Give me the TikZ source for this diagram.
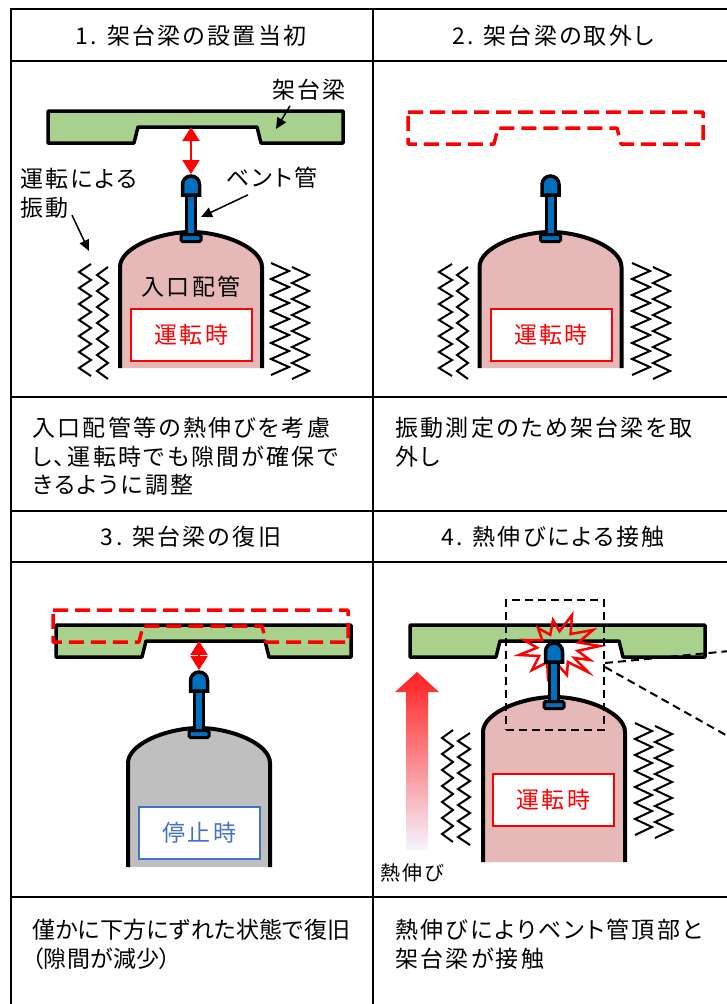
\documentclass[tikz,border=0pt]{standalone}
\usepackage{fontspec}
\setmainfont{Noto Sans CJK JP}[LetterSpace=10,RawFeature=+palt]
\usepackage{tikz}
\usetikzlibrary{arrows.meta,positioning,calc}
\definecolor{beamgreen}{RGB}{169,209,142}
\definecolor{pipepink}{RGB}{230,185,184}
\definecolor{stopgray}{RGB}{191,191,191}
\definecolor{ventblue}{RGB}{0,112,192}
\definecolor{stopblue}{RGB}{68,114,196}
\definecolor{hotred}{RGB}{255,0,0}
\newcommand{\jtext}{\fontsize{23}{28.5}\selectfont}

\begin{document}
\begin{tikzpicture}[x=1pt, y=-1pt,
  grid/.style={line width=2pt},
  head/.style={font=\jtext, inner sep=0pt},
  body/.style={font=\jtext, inner sep=0pt, anchor=north west, align=left},
  lbl/.style={font=\jtext, inner sep=0pt},
  statebox/.style={draw=#1, line width=2pt, fill=white, text=#1, font=\jtext, minimum width=121pt, minimum height=52pt, inner sep=0pt},
  beamfill/.style={draw=black, line width=3.5pt, fill=beamgreen, line join=round},
  beamghost/.style={draw=hotred, line width=3.5pt, dash pattern=on 15pt off 7pt, line join=round},
  zz/.style={line width=2pt},
  lead/.style={-{Triangle[length=11pt, width=10pt]}, line width=1.5pt},
  gap/.style={{Triangle[length=14pt, width=17pt]}-{Triangle[length=14pt, width=17pt]}, line width=2pt, hotred},
  burst/.style={draw=hotred, line width=2.5pt, line join=miter},
  focus/.style={line width=2pt, dash pattern=on 8pt off 5pt},
  pics/beam/.style={code={
    \path[pic actions] (0,0) -- (295,0) -- (295,32) -- (213,32) -- (209,16) -- (90,16) -- (86,32) -- (0,32) -- cycle;
  }},
  pics/vessel/.style 2 args={code={
    \fill[#1] (-71,#2) -- (-71,35) .. controls (-71,15.7) and (-31.8,0) .. (0,0) .. controls (31.8,0) and (71,15.7) .. (71,35) -- (71,#2) -- cycle;
    \draw[line width=4pt] (-71,#2) -- (-71,35) .. controls (-71,15.7) and (-31.8,0) .. (0,0) .. controls (31.8,0) and (71,15.7) .. (71,35) -- (71,#2);
  }},
  pics/vent/.style={code={
    \draw[line width=3pt, fill=ventblue] (-4.5,20) rectangle (4.5,61);
    \draw[line width=3pt, fill=ventblue, rounded corners=1.5pt] (-10,60.5) rectangle (10,67.5);
    \draw[line width=3.5pt, fill=ventblue] (-8.5,21) -- (-8.5,10.5) arc[start angle=180, end angle=360, radius=8.5] -- (8.5,21) -- cycle;
  }},
  pics/zigzag/.style={code={
    \draw[zz] (0,0) \foreach \k in {1,...,7} { -- ++(-#1,8) -- ++(#1,8) };
  }},
]
\clip (0,0) rectangle (727,1004);

% table frame
\draw[grid] (11,9) rectangle (734,1011);
\draw[grid] (372.5,9) -- (372.5,1011);
\foreach \y in {61,396.5,510.5,562,897} \draw[grid] (11,\y) -- (734,\y);

% headers
\node[head] (h1) at (191,36) {1. 架台梁の設置当初};
\node[head] (h2) at (553,36) {2. 架台梁の取外し};
\node[head] (h3) at (191,537) {3. 架台梁の復旧};
\node[head] (h4) at (553,537) {4. 熱伸びによる接触};

% 1: initial setting
\pic[beamfill] at (48,111) {beam};
\pic at (191,232) {vessel={pipepink}{136}};
\pic at (191,174) {vent};
\node[lbl] at (191,287) (pipe1) {入口配管};
\node[statebox=hotred] (run1) at (191.5,335) {運転時};
\pic at (91,264) {zigzag=12};
\pic at (108,267) {zigzag=11};
\pic at (271,263) {zigzag=-18};
\pic at (292,267) {zigzag=-17};
\coordinate (gap1a) at (191,127);
\coordinate (gap1b) at (191,174);
\draw[gap] (gap1a) -- (gap1b);
\node[lbl] (lblbeam) at (309,90) {架台梁};
\node[lbl] (lblvent) at (272,178) {ベント管};
\node[lbl, anchor=north west, align=left] (lblvib) at (20,168) {運転による\\振動};
\coordinate (beamtip) at (276,129);
\coordinate (venttip) at (201,217);
\coordinate (vibtip) at (89,251);
\draw[lead] ([xshift=-19pt, yshift=-5pt]lblbeam.south) -- (beamtip);
\draw[lead] ([xshift=-24pt, yshift=-6pt]lblvent.south) -- (venttip);
\draw[lead] ([xshift=52pt, yshift=3pt]lblvib.south west) -- (vibtip);

% 2: beam removed
\pic[beamghost] at (408,112) {beam};
\pic at (550.5,232) {vessel={pipepink}{136}};
\pic at (550.5,174) {vent};
\node[statebox=hotred] (run2) at (551,335) {運転時};
\pic at (452,264) {zigzag=13};
\pic at (468,267) {zigzag=11};
\pic at (632,263) {zigzag=-18};
\pic at (653,267) {zigzag=-17};

% 3: beam put back slightly lower
\pic[beamfill] at (56,625) {beam};
\pic[beamghost] at (53,610) {beam};
\pic at (199,728) {vessel={stopgray}{139}};
\pic at (199,670) {vent};
\node[statebox=stopblue] (stop3) at (199.5,833) {停止時};
\coordinate (gap3a) at (199,641);
\coordinate (gap3b) at (199,670);
\draw[gap] (gap3a) -- (gap3b);

% 4: contact by thermal growth
\pic[beamfill] at (410,625) {beam};
\pic at (554,697) {vessel={pipepink}{165}};
\draw[burst] (572,615) -- (570.6,634) -- (593,630) -- (578.3,642.5) -- (600,646) -- (577.5,650.8)
  -- (590,660) -- (574.2,657.9) -- (588,672) -- (567.8,662) -- (567,675) -- (556.8,663.7)
  -- (548,678) -- (547.2,662.3) -- (532,670) -- (539.2,656) -- (519,655) -- (537,647.7)
  -- (524,640) -- (542.3,640.3) -- (538,628) -- (550.2,634.8) -- (553,620) -- (559.6,631.2) -- cycle;
\pic at (554,641) {vent};
\node[statebox=hotred] (run4) at (553.5,800) {運転時};
\pic at (453,730) {zigzag=11};
\pic at (470,733) {zigzag=12};
\pic at (635,723) {zigzag=-17};
\pic at (655,726) {zigzag=-17};
\shade[top color=hotred!88, bottom color=blue!4] (406,850) -- (406,692) -- (395,692) -- (417,672) -- (439,692) -- (428,692) -- (428,850) -- cycle;
\node[font=\fontsize{20}{24}\selectfont, inner sep=0pt, anchor=west] (grow) at (380,873) {熱伸び};
\node[focus, draw, minimum width=98pt, minimum height=130pt, inner sep=0pt] (zoombox) at (555,665) {};
\coordinate (zoomup) at (740,650);
\coordinate (zoomdn) at (740,743);
\draw[focus] ([yshift=2pt]zoombox.east) -- (zoomup);
\draw[focus] ([yshift=-2pt]zoombox.east) -- (zoomdn);

% texts below
\node[body] (t1) at (32,417) {入口配管等の熱伸びを考慮\\し、運転時でも隙間が確保で\\きるように調整};
\node[body] (t2) at (395,417) {振動測定のため架台梁を取\\外し};
\node[body, font=\jtext\addfontfeatures{LetterSpace=1}] (t3) at (32,919) {僅かに下方にずれた状態で復旧\\（隙間が減少）};
\node[body] (t4) at (395,919) {熱伸びによりベント管頂部と\\架台梁が接触};
\end{tikzpicture}
\end{document}
